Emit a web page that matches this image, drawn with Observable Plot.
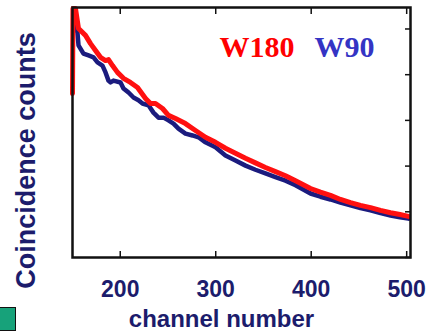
<!DOCTYPE html>
<html>
<head>
<meta charset="utf-8">
<script src="https://cdn.jsdelivr.net/npm/d3@7"></script>
<script src="https://cdn.jsdelivr.net/npm/@observablehq/plot@0.6"></script>
<style>
  html, body { margin: 0; padding: 0; background: #fff; }
  #wrap { position: relative; width: 432px; height: 336px; overflow: hidden; }
  #marker { position: absolute; left: -2px; top: 307px; width: 16px; height: 22px;
            background: #17a27a; border: 1.5px solid #111; }
</style>
</head>
<body>
<div id="wrap"><div id="marker"></div></div>
<script>
// Coincidence spectrum, W180 (red) and W90 (blue), counts in arbitrary units
const w180Channel = [150, 150.5, 153.1, 156.3, 163.6, 168.9, 174.1, 179.3, 184.6, 187.7, 191.9, 197.1, 203.4, 210.7, 218.1, 226.5, 231.7, 236.9, 244.3, 250.5, 257.9, 268.3, 278.8, 289.3, 299.8, 310.2, 320.7, 331.2, 341.6, 352.1, 362.6, 373.1, 383.6, 399.3, 409.7, 420.2, 430.7, 441.2, 451.6, 462.1, 472.6, 483.1, 493, 501.9];
const w180Counts  = [3.59, 5.45, 5.45, 5.01, 4.86, 4.68, 4.53, 4.38, 4.31, 4.33, 4.20, 4.05, 3.92, 3.83, 3.72, 3.48, 3.37, 3.37, 3.26, 3.11, 3.04, 2.93, 2.78, 2.63, 2.52, 2.39, 2.28, 2.17, 2.07, 1.97, 1.88, 1.79, 1.68, 1.51, 1.43, 1.36, 1.27, 1.20, 1.14, 1.09, 1.03, 0.98, 0.94, 0.90];

const w90Channel = [153, 155.2, 156.3, 161.5, 166.8, 172, 176.2, 181.4, 184.6, 187.7, 189.8, 192.9, 200.3, 203.4, 208.7, 213.9, 219.1, 223.3, 229.6, 234.8, 240.1, 245.3, 250.5, 255.8, 261, 268.3, 275.7, 282, 289.3, 299.8, 310.2, 320.7, 331.2, 341.6, 352.1, 362.6, 373.1, 383.6, 399.3, 409.7, 420.2, 430.7, 441.2, 451.6, 462.1, 472.6, 483.1, 493, 501.9];
const w90Counts  = [5.10, 4.92, 4.64, 4.46, 4.42, 4.38, 4.27, 4.20, 4.05, 3.87, 3.83, 3.87, 3.83, 3.70, 3.61, 3.50, 3.44, 3.37, 3.33, 3.17, 3.06, 3.06, 3.00, 2.93, 2.82, 2.71, 2.67, 2.63, 2.52, 2.41, 2.23, 2.12, 2.01, 1.92, 1.84, 1.76, 1.68, 1.58, 1.40, 1.33, 1.27, 1.20, 1.14, 1.08, 1.03, 0.97, 0.92, 0.88, 0.85];

const xTicks = [200, 300, 400, 500];
const yTicks = [0, 1, 2, 3, 4, 5];

const seriesNames = ["W180", "W90"];
const seriesColors = ["#ff1010", "#1b1b7e"];
const legendColors = ["#ff0000", "#3434c4"];
const xLabel = "channel number";
const yLabel = "Coincidence counts";

const w180 = w180Channel.map((c, i) => ({channel: c, counts: w180Counts[i]}));
const w90 = w90Channel.map((c, i) => ({channel: c, counts: w90Counts[i]}));

const navy = "#1c1c6c";
const sans = "'Liberation Sans', Arial, sans-serif";
const serif = "'Liberation Serif', 'Times New Roman', serif";

const chart = Plot.plot({
  width: 432,
  height: 336,
  marginLeft: 72,
  marginRight: 22,
  marginTop: 7,
  marginBottom: 79,
  style: {background: "#fff", overflow: "visible"},
  x: {domain: [150, 504]},
  y: {domain: [0, 5.47]},
  marks: [
    // inward ticks on bottom, top and right edges
    Plot.axisX({anchor: "bottom", ticks: xTicks, tickSize: -6, tickFormat: () => "", stroke: "#111", strokeWidth: 1.5, label: null}),
    Plot.axisX({anchor: "top", ticks: xTicks, tickSize: -6, tickFormat: () => "", stroke: "#111", strokeWidth: 1.5, label: null}),
    Plot.axisY({anchor: "right", ticks: yTicks, tickSize: -6, tickFormat: () => "", stroke: "#111", strokeWidth: 1.5, label: null}),
    // bottom tick labels
    Plot.axisX({anchor: "bottom", ticks: xTicks, tickSize: 0, tickPadding: 23, fontSize: 23, fontWeight: "bold",
                fontFamily: sans, fill: navy, label: null}),
    Plot.line(w90, {x: "channel", y: "counts", stroke: seriesColors[1], strokeWidth: 4.5, strokeLinejoin: "round"}),
    Plot.line(w180, {x: "channel", y: "counts", stroke: seriesColors[0], strokeWidth: 5, strokeLinejoin: "round"}),
    Plot.frame({stroke: "#111", strokeWidth: 2.5}),
    // series names
    Plot.text([seriesNames[0]], {frameAnchor: "top-right", textAnchor: "end", lineAnchor: "middle", dx: -116, dy: 40,
                                 fontSize: 30, fontWeight: "bold", fontFamily: serif, fill: legendColors[0]}),
    Plot.text([seriesNames[1]], {frameAnchor: "top-right", textAnchor: "end", lineAnchor: "middle", dx: -36, dy: 40,
                                 fontSize: 30, fontWeight: "bold", fontFamily: serif, fill: legendColors[1]}),
    // axis titles
    Plot.text([xLabel], {frameAnchor: "bottom", lineAnchor: "middle", dx: -20, dy: 62,
                         fontSize: 24, fontWeight: "bold", fontFamily: sans, fill: navy}),
    Plot.text([yLabel], {frameAnchor: "left", textAnchor: "middle", lineAnchor: "middle", rotate: -90, dx: -46, dy: 28,
                         fontSize: 27, fontWeight: "bold", fontFamily: sans, fill: navy})
  ]
});

document.getElementById("wrap").prepend(chart);
</script>
</body>
</html>
